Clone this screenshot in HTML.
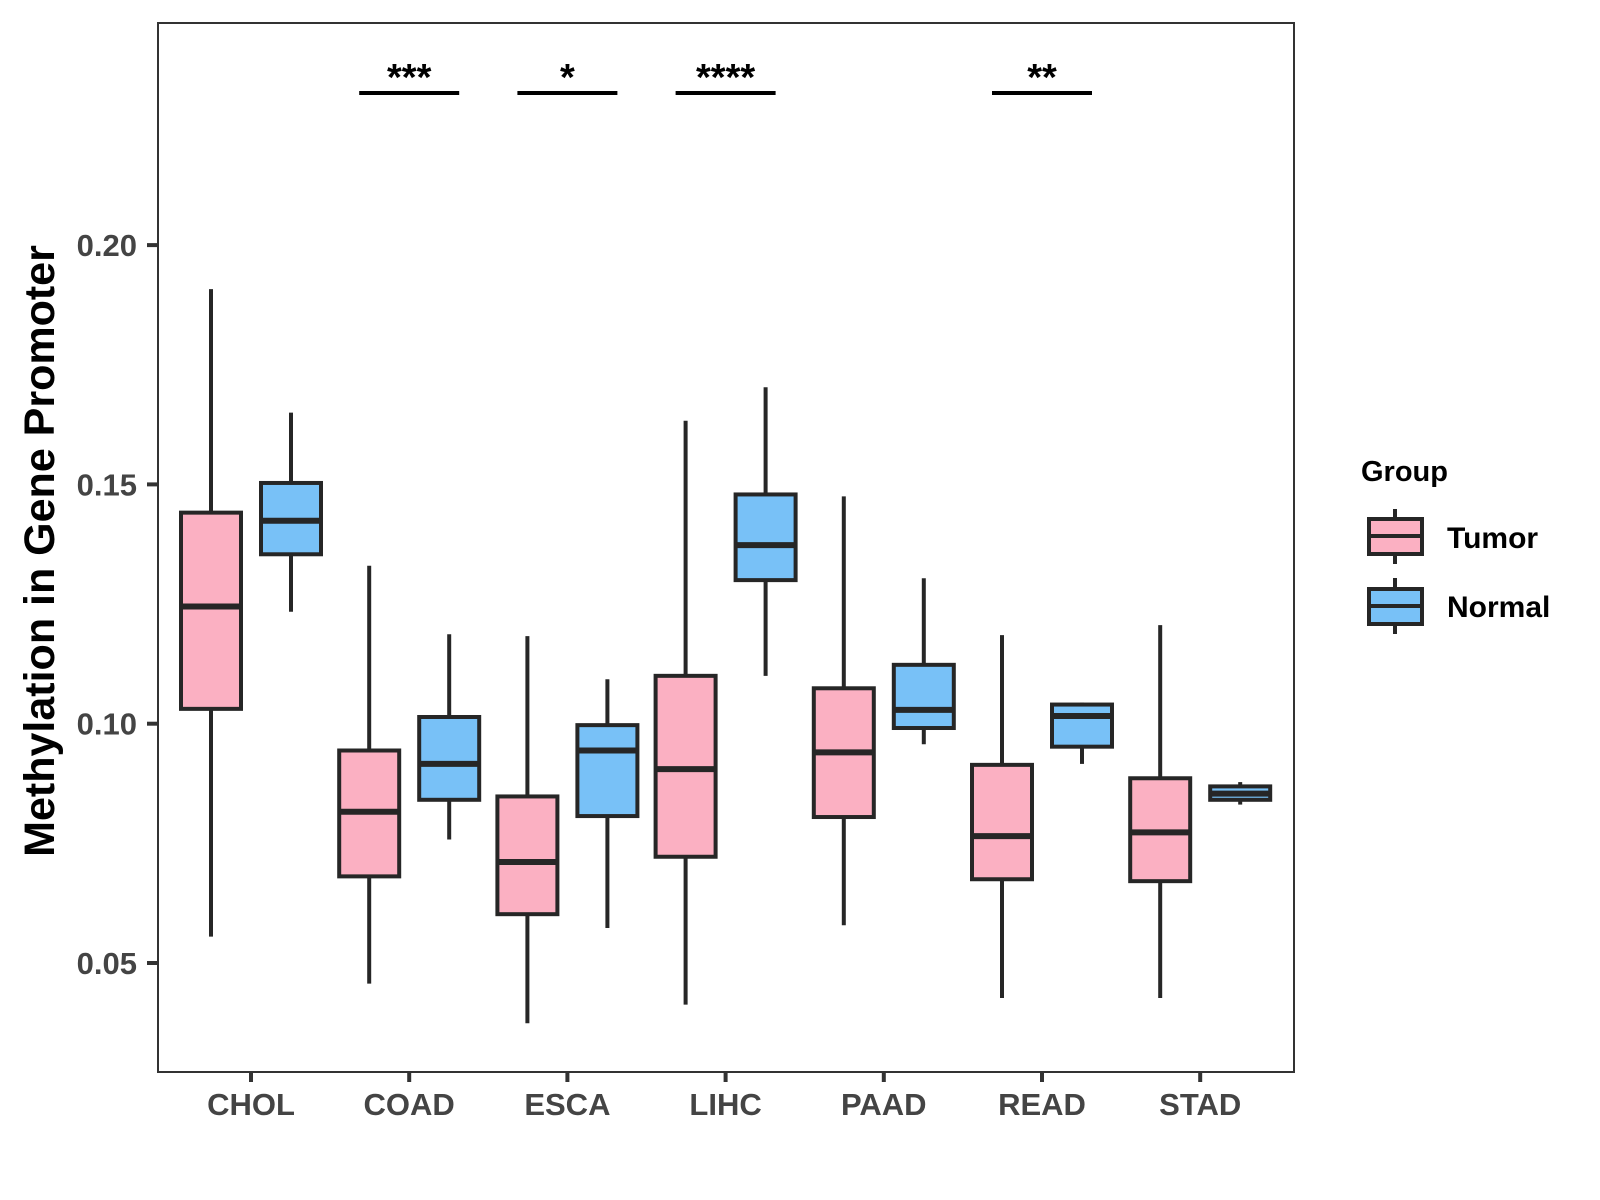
<!DOCTYPE html>
<html><head><meta charset="utf-8"><style>
body{margin:0;background:#fff}
svg{display:block;font-family:"Liberation Sans",Arial,sans-serif;font-weight:bold}
</style></head><body>
<svg id="chart" width="1600" height="1200" viewBox="0 0 1600 1200">
<rect x="158" y="23" width="1136" height="1049" fill="#fff" stroke="#333" stroke-width="2"/>
<g id="marks"></g>
<g id="axes"></g>
<text transform="translate(54,551) rotate(-90)" text-anchor="middle" font-size="43" fill="#000">Methylation in Gene Promoter</text>
<g transform="translate(-7,-3)">
<text x="1368" y="484" font-size="29" fill="#000">Group</text>
<g>
<line x1="1402" y1="512" x2="1402" y2="567" stroke="#262626" stroke-width="4"/>
<rect x="1376" y="522" width="53" height="35" fill="#FBB0C2" stroke="#262626" stroke-width="4"/>
<line x1="1376" y1="539" x2="1429" y2="539" stroke="#262626" stroke-width="4"/>
<text x="1454" y="551" font-size="30" fill="#000">Tumor</text></g>
<g>
<line x1="1402" y1="581" x2="1402" y2="637" stroke="#262626" stroke-width="4"/>
<rect x="1376" y="592" width="53" height="35" fill="#78C1F7" stroke="#262626" stroke-width="4"/>
<line x1="1376" y1="609" x2="1429" y2="609" stroke="#262626" stroke-width="4"/>
<text x="1454" y="620" font-size="30" fill="#000">Normal</text></g>
</g>
</svg>
<script>
const categories=["CHOL","COAD","ESCA","LIHC","PAAD","READ","STAD"];
// [whiskerLow, q1, median, q3, whiskerHigh]
const tumorStats=[[0.0555,0.1031,0.1245,0.1441,0.1908],[0.0457,0.0681,0.0816,0.0944,0.133],[0.0374,0.0602,0.0711,0.0848,0.1183],[0.0413,0.0722,0.0905,0.11,0.1633],[0.0579,0.0805,0.094,0.1074,0.1475],[0.0427,0.0675,0.0765,0.0914,0.1185],[0.0427,0.0671,0.0773,0.0886,0.1206]];
const normalStats=[[0.1234,0.1354,0.1424,0.1503,0.165],[0.0758,0.0841,0.0916,0.1014,0.1187],[0.0573,0.0807,0.0944,0.0997,0.1093],[0.11,0.13,0.1373,0.1479,0.1703],[0.0957,0.0991,0.1029,0.1123,0.1304],[0.0916,0.0952,0.1016,0.104,0.1044],[0.0831,0.0841,0.0854,0.0869,0.0878]];
const yTicks=[0.05,0.10,0.15,0.20];
const yTickLabels=["0.05","0.10","0.15","0.20"];
const sigCategories=["COAD","ESCA","LIHC","READ"];
const sigLabels=["***","*","****","**"];
const NS="http://www.w3.org/2000/svg";
function y(v){return 963-(v-0.05)/0.05*239.3;}
function x(i){return 251+i*158.2;}
function mk(t,a,p){const e=document.createElementNS(NS,t);for(const k in a)e.setAttribute(k,a[k]);p.appendChild(e);return e;}
const marks=document.getElementById('marks'),axes=document.getElementById('axes');
const stroke="#262626",bw=60;
function box(s,cx,fill,name){
 const g=mk('g',{},marks);
 
 
 mk('line',{x1:cx,x2:cx,y1:y(s[4]),y2:y(s[0]),stroke:stroke,'stroke-width':4},g);
 mk('rect',{x:cx-bw/2,y:y(s[3]),width:bw,height:y(s[1])-y(s[3]),fill:fill,stroke:stroke,'stroke-width':4},g);
 mk('line',{x1:cx-bw/2,x2:cx+bw/2,y1:y(s[2]),y2:y(s[2]),stroke:stroke,'stroke-width':6},g);
}
categories.forEach((c,i)=>{
 box(tumorStats[i],x(i)-40,"#FBB0C2","box-tumor-"+c.toLowerCase());
 box(normalStats[i],x(i)+40,"#78C1F7","box-normal-"+c.toLowerCase());
 mk('line',{x1:x(i),x2:x(i),y1:1072,y2:1082,stroke:"#333",'stroke-width':4},axes);
 const t=mk('text',{x:x(i),y:1115,'text-anchor':'middle','font-size':31,fill:'#444'},axes);
 
 
 t.textContent=c;
});
yTicks.forEach((v,i)=>{
 mk('line',{x1:147,x2:158,y1:y(v),y2:y(v),stroke:"#333",'stroke-width':4},axes);
 const t=mk('text',{x:137,y:y(v)+11,'text-anchor':'end','font-size':31,fill:'#444'},axes);
 
 
 t.textContent=yTickLabels[i];
});
sigCategories.forEach((c,k)=>{
 const i=categories.indexOf(c);
 const g=mk('g',{},marks);
 
 
 mk('line',{x1:x(i)-50,x2:x(i)+50,y1:93,y2:93,stroke:'#000','stroke-width':4},g);
 const t=mk('text',{x:x(i),y:90,'text-anchor':'middle','font-size':38,fill:'#000'},g);
 t.textContent=sigLabels[k];
});
</script>
</body></html>
